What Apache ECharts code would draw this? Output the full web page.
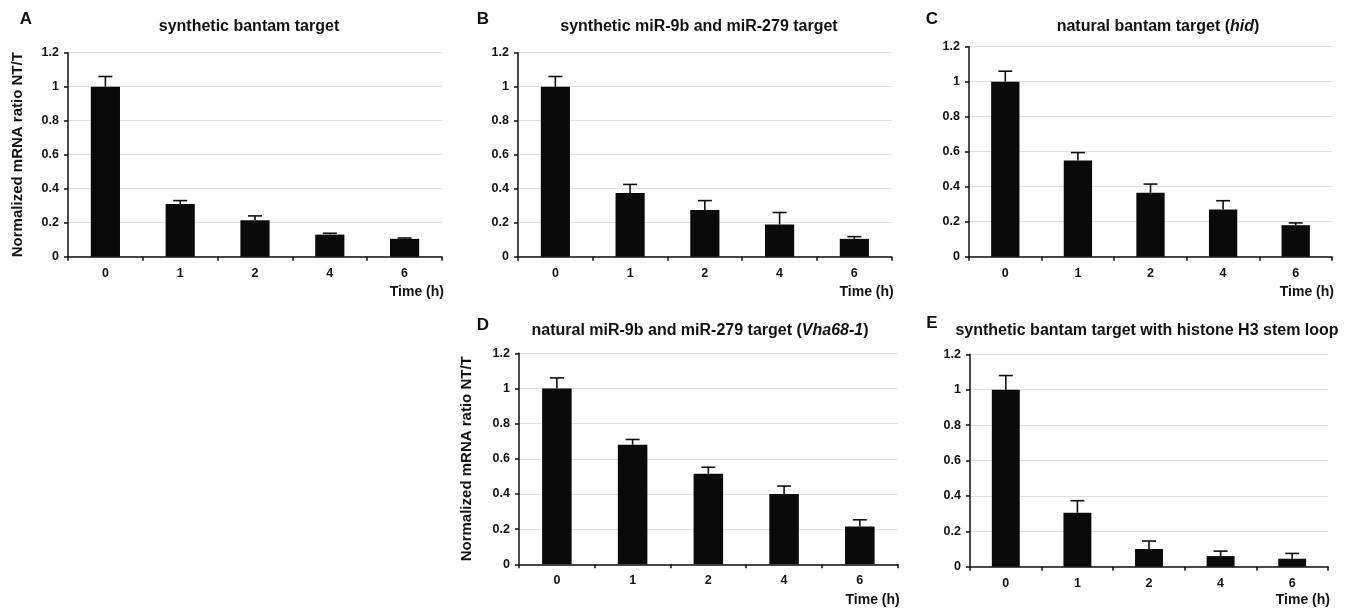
<!DOCTYPE html>
<html><head><meta charset="utf-8">
<script src="https://cdn.jsdelivr.net/npm/echarts@6/dist/echarts.min.js"></script>
<style>html,body{margin:0;padding:0;background:#fff}#c{width:1358px;height:612px}</style>
</head><body><div id="c"></div>
<script>
const categories = ['0', '1', '2', '4', '6'];
const yTicks = [0, 0.2, 0.4, 0.6, 0.8, 1, 1.2];
const valuesA = [1, 0.31, 0.215, 0.13, 0.105];
const errorsA = [0.06, 0.02, 0.025, 0.008, 0.005];
const valuesB = [1, 0.375, 0.275, 0.19, 0.105];
const errorsB = [0.06, 0.05, 0.055, 0.07, 0.013];
const valuesC = [1, 0.55, 0.365, 0.27, 0.18];
const errorsC = [0.06, 0.045, 0.05, 0.05, 0.013];
const valuesD = [1, 0.68, 0.515, 0.4, 0.215];
const errorsD = [0.06, 0.03, 0.037, 0.045, 0.038];
const valuesE = [1, 0.305, 0.1, 0.06, 0.045];
const errorsE = [0.08, 0.068, 0.045, 0.028, 0.03];
const letters = ['A', 'B', 'C', 'D', 'E'];
const titles = [
  'synthetic bantam target',
  'synthetic miR-9b and miR-279 target',
  '{n|natural bantam target (}{i|hid}{n|)}',
  '{n|natural miR-9b and miR-279 target (}{i|Vha68-1}{n|)}',
  'synthetic bantam target with histone H3 stem loop'
];
const yName = 'Normalized mRNA ratio NT/T';
const xName = 'Time (h)';

const panels = [
  {v: valuesA, e: errorsA, grid: {left: 68, top: 52.7, width: 374, height: 204}, title: [249, 27], letter: [26, 19], yname: true, timeY: 292},
  {v: valuesB, e: errorsB, grid: {left: 518, top: 52.7, width: 373.7, height: 204}, title: [699, 27], letter: [483, 19], yname: false, timeY: 292},
  {v: valuesC, e: errorsC, grid: {left: 969, top: 46.7, width: 363, height: 210}, title: [1158, 27], letter: [932, 19], yname: false, timeY: 292},
  {v: valuesD, e: errorsD, grid: {left: 519, top: 353.3, width: 378.7, height: 211}, title: [700, 331], letter: [483, 325], yname: true, timeY: 600},
  {v: valuesE, e: errorsE, grid: {left: 970, top: 354.3, width: 358, height: 212.4}, title: [1147, 331], letter: [932, 323], yname: false, timeY: 600}
];

const FONT = '"Liberation Sans", Arial, sans-serif';
const grids = [], xAxes = [], yAxes = [], series = [], graphics = [];

panels.forEach((p, i) => {
  grids.push(Object.assign({containLabel: false}, p.grid));
  xAxes.push({
    type: 'category', gridIndex: i, data: categories, boundaryGap: true,
    axisLine: {lineStyle: {color: '#111', width: 1.5}},
    axisTick: {show: true, length: 4, interval: 0, lineStyle: {color: '#111', width: 1.5}},
    axisLabel: {color: '#111', fontFamily: FONT, fontWeight: 'bold', fontSize: 12.5, margin: 10},
    splitLine: {show: false}
  });
  yAxes.push({
    type: 'value', gridIndex: i, min: 0, max: 1.2, interval: 0.2,
    name: p.yname ? yName : '', nameLocation: 'middle', nameGap: i === 0 ? 43 : 45, nameRotate: 90,
    nameTextStyle: {color: '#111', fontFamily: FONT, fontWeight: 'bold', fontSize: 15},
    axisLine: {show: true, lineStyle: {color: '#111', width: 1.5}},
    axisTick: {show: true, length: 4, lineStyle: {color: '#111', width: 1.5}},
    axisLabel: {color: '#111', fontFamily: FONT, fontWeight: 'bold', fontSize: 12.5, margin: 9,
      formatter: v => String(parseFloat(v.toFixed(1)))},
    splitLine: {show: true, lineStyle: {color: '#e0e0e0', width: 1}}
  });
  series.push({
    type: 'bar', xAxisIndex: i, yAxisIndex: i, data: p.v, barWidth: '39%',
    itemStyle: {color: '#0a0a0a'}, silent: true, animation: false
  });
  const errData = p.v.map((v, k) => [k, v, v + p.e[k]]);
  series.push({
    type: 'custom', xAxisIndex: i, yAxisIndex: i, data: errData, animation: false, silent: true, z: 3,
    renderItem: (params, api) => {
      const x = api.value(0);
      const lo = api.coord([x, api.value(1)]);
      const hi = api.coord([x, api.value(2)]);
      const st = {stroke: '#111', lineWidth: 1.6};
      return {type: 'group', children: [
        {type: 'line', shape: {x1: lo[0], y1: lo[1], x2: hi[0], y2: hi[1]}, style: st},
        {type: 'line', shape: {x1: hi[0] - 7, y1: hi[1], x2: hi[0] + 7, y2: hi[1]}, style: st}
      ]};
    }
  });
  graphics.push({
    type: 'text', x: p.title[0], y: p.title[1], silent: true,
    style: {text: titles[i], align: 'center', verticalAlign: 'middle', fill: '#111',
      font: 'bold 16px ' + FONT,
      rich: {n: {fill: '#111', fontFamily: FONT, fontWeight: 'bold', fontSize: 16},
             i: {fill: '#111', fontFamily: FONT, fontWeight: 'bold', fontStyle: 'italic', fontSize: 16}}}
  });
  graphics.push({
    type: 'text', x: p.letter[0], y: p.letter[1], silent: true,
    style: {text: letters[i], align: 'center', verticalAlign: 'middle', fill: '#111', font: 'bold 17px ' + FONT}
  });
  graphics.push({
    type: 'text', x: p.grid.left + p.grid.width + 2, y: p.timeY, silent: true,
    style: {text: xName, align: 'right', verticalAlign: 'middle', fill: '#111', font: 'bold 14px ' + FONT}
  });
});

const chart = echarts.init(document.getElementById('c'), null, {renderer: 'canvas'});
chart.setOption({
  backgroundColor: '#fff', animation: false,
  grid: grids, xAxis: xAxes, yAxis: yAxes, series: series, graphic: graphics
});
</script></body></html>
